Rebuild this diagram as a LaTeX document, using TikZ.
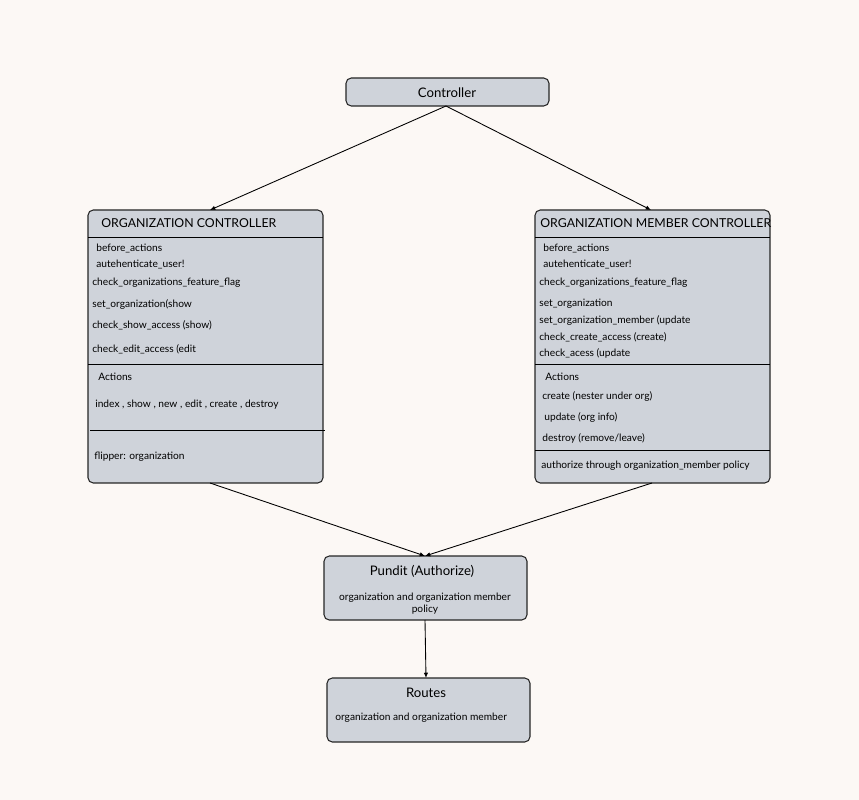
\documentclass[tikz,border=0pt]{standalone}
\usepackage{fontspec}
\setmainfont{Lato}
\usetikzlibrary{arrows.meta}
\definecolor{bgc}{HTML}{FCF8F5}
\definecolor{boxc}{HTML}{CFD3DA}
\tikzset{
  box/.style={draw=black!85,fill=boxc,rounded corners=3pt,line width=0.6pt},
  item/.style={anchor=west,inner sep=0pt,font=\fontsize{5.8}{7}\selectfont},
  head/.style={anchor=west,inner sep=0pt,font=\fontsize{7}{8}\selectfont},
  link/.style={-{Latex[length=3pt,width=2.5pt]},line width=0.5pt}
}
\begin{document}
\begin{tikzpicture}[x=0.02cm,y=-0.02cm]
		\fill[bgc] (0,0) rectangle (859,800);
		% controller
		\draw[box] (346,78) rectangle (549,106);
		\node[inner sep=0pt,font=\fontsize{7.5}{9}\selectfont] (ctrl) at (447,93) {Controller};
		\coordinate (ctrlS) at (446,106);
		% organization controller
		\draw[box] (88,210) rectangle (323,483);
		\draw (88,237) -- (323,237);
		\draw (88,364) -- (323,364);
		\draw (90,430) -- (325,430);
		\coordinate (orgN) at (210,210);
		\coordinate (orgS) at (210,483);
		\node[head] (orgT) at (101,223) {ORGANIZATION CONTROLLER};
		\foreach \y/\t in {248/before\_actions,264/autehenticate\_user!}
			\node[item] at (96,\y) {\t};
		\foreach \y/\t in {283/check\_organizations\_feature\_flag,
			304/set\_organization(show/update/edit/destroy),
			325/check\_show\_access (show),
			349/check\_edit\_access (edit/update/destroy)}
			\node[item] at (92,\y) {\t};
		\node[item] at (98,377) {Actions};
		\node[item] at (95,405) {index , show , new , edit , create , destroy};
		\node[item] at (94,457) {flipper: organization};
		% organization member controller
		\draw[box] (535,210) rectangle (770,483);
		\draw (535,237) -- (770,237);
		\draw (535,364) -- (770,364);
		\draw (535,450) -- (770,450);
		\coordinate (memN) at (651,210);
		\coordinate (memS) at (652,483);
		\node[head] (memT) at (540,223) {ORGANIZATION MEMBER CONTROLLER};
		\foreach \y/\t in {248/before\_actions,264/autehenticate\_user!}
			\node[item] at (543,\y) {\t};
		\foreach \y/\t in {283/check\_organizations\_feature\_flag,
			304/set\_organization,
			320/set\_organization\_member (update/destroy),
			337/check\_create\_access (create),
			353/check\_acess (update/destroy)}
			\node[item] at (539,\y) {\t};
		\node[item] at (545,377) {Actions};
		\node[item] at (542,396) {create (nester under org)};
		\node[item] at (544,417) {update (org info)};
		\node[item] at (542,438) {destroy (remove/leave)};
		\node[item] at (541,466) {authorize through organization\_member policy};
		% pundit
		\draw[box] (324,556) rectangle (527,620);
		\node[inner sep=0pt,font=\fontsize{7.5}{9}\selectfont] (pundit) at (422,571) {Pundit (Authorize)};
		\node[inner sep=0pt,align=center,font=\fontsize{5.8}{6.8}\selectfont] at (425,604) {organization and organization member\\policy};
		\coordinate (punN) at (425,556);
		\coordinate (punS) at (425,620);
		% routes
		\draw[box] (327,678) rectangle (530,742);
		\node[inner sep=0pt,font=\fontsize{7.5}{9}\selectfont] (routes) at (426,693) {Routes};
		\node[item] at (335,718) {organization and organization member};
		\coordinate (rouN) at (426,678);
		% arrows
		\draw[link] (ctrlS) -- (orgN);
		\draw[link] (ctrlS) -- (memN);
		\draw[link] (orgS) -- (punN);
		\draw[link] (memS) -- (punN);
		\draw[link] (punS) -- (rouN);
\end{tikzpicture}
\end{document}
